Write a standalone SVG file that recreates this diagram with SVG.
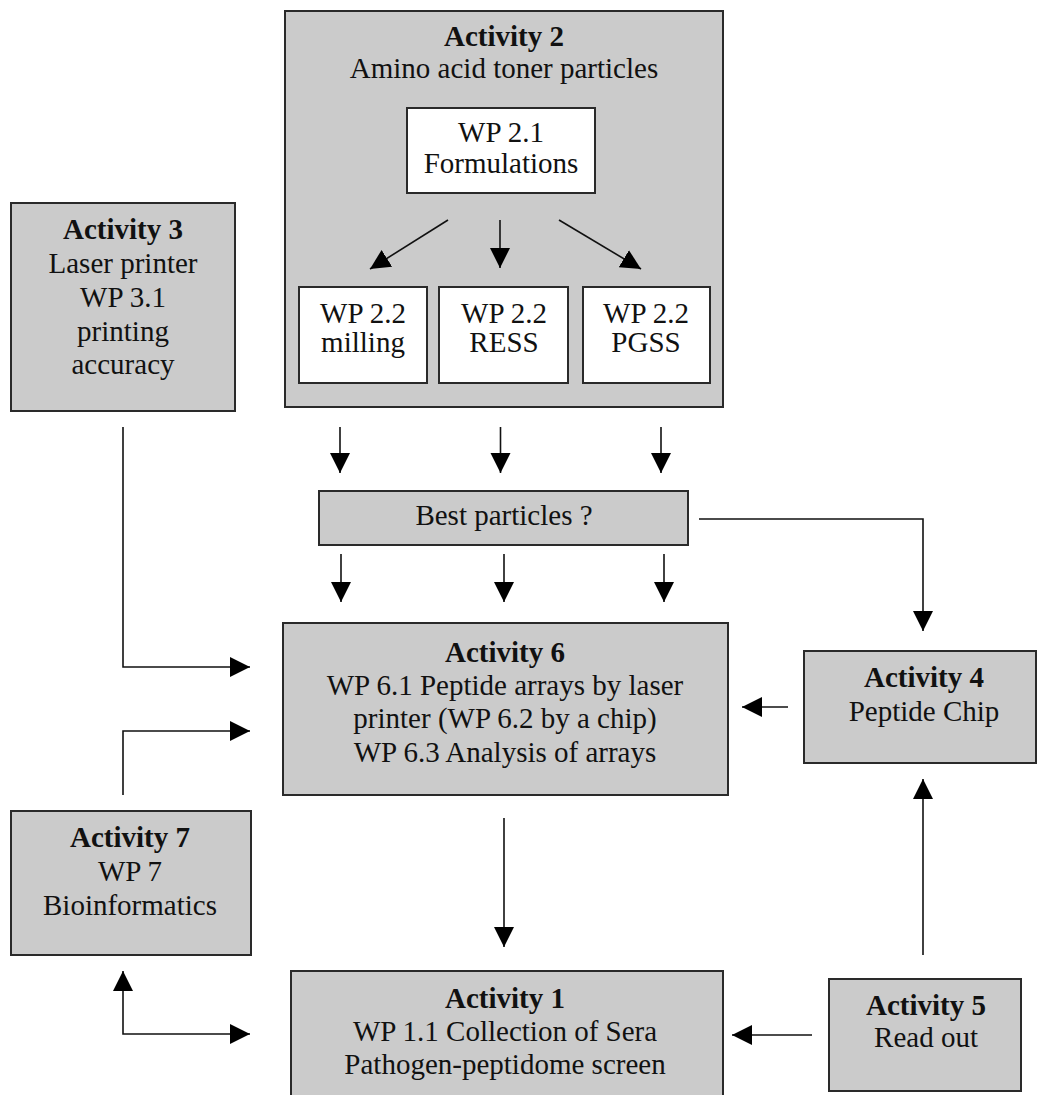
<svg xmlns="http://www.w3.org/2000/svg" width="1037" height="1095" viewBox="0 0 1037 1095">
<defs>
<style>
.box{fill:#cbcbcb;stroke:#2a2a2a;stroke-width:2}
.wbox{fill:#ffffff;stroke:#2a2a2a;stroke-width:2}
text{font-family:"Liberation Serif","Times New Roman",serif;font-size:29px;fill:#111;text-anchor:middle}
.b{font-weight:bold}
.c{fill:none;stroke:#111;stroke-width:1.6;marker-end:url(#ah)}
.bi{marker-start:url(#ah)}
</style>
<marker id="ah" markerUnits="userSpaceOnUse" markerWidth="21" markerHeight="21" refX="20" refY="10" orient="auto-start-reverse" viewBox="0 0 21 21">
<path d="M0,0 L20,10 L0,20 Z" fill="#000"/>
</marker>
</defs>
<rect width="1037" height="1095" fill="#ffffff"/>

<g id="activity2">
<rect class="box" x="285" y="11" width="438" height="396"/>
<text class="b" x="504" y="46">Activity 2</text>
<text x="504" y="78">Amino acid toner particles</text>
</g>
<g id="wp21">
<rect class="wbox" x="407" y="108" width="188" height="85"/>
<text x="501" y="142">WP 2.1</text>
<text x="501" y="173">Formulations</text>
</g>
<g id="wp22-milling">
<rect class="wbox" x="299" y="287" width="128" height="96"/>
<text x="363" y="323">WP 2.2</text>
<text x="363" y="352">milling</text>
</g>
<g id="wp22-ress">
<rect class="wbox" x="439" y="287" width="129" height="96"/>
<text x="504" y="323">WP 2.2</text>
<text x="504" y="352">RESS</text>
</g>
<g id="wp22-pgss">
<rect class="wbox" x="583" y="287" width="127" height="96"/>
<text x="646" y="323">WP 2.2</text>
<text x="646" y="352">PGSS</text>
</g>
<g id="activity3">
<rect class="box" x="11" y="203" width="224" height="208"/>
<text class="b" x="123" y="239">Activity 3</text>
<text x="123" y="273">Laser printer</text>
<text x="123" y="307">WP 3.1</text>
<text x="123" y="341">printing</text>
<text x="123" y="374">accuracy</text>
</g>
<g id="best">
<rect class="box" x="319" y="491" width="369" height="54"/>
<text x="504" y="525">Best particles ?</text>
</g>
<g id="activity6">
<rect class="box" x="283" y="623" width="445" height="172"/>
<text class="b" x="505" y="662">Activity 6</text>
<text x="505" y="695">WP 6.1 Peptide arrays by laser</text>
<text x="505" y="728">printer (WP 6.2 by a chip)</text>
<text x="505" y="762">WP 6.3 Analysis of arrays</text>
</g>
<g id="activity4">
<rect class="box" x="804" y="651" width="232" height="112"/>
<text class="b" x="924" y="687">Activity 4</text>
<text x="924" y="721">Peptide Chip</text>
</g>
<g id="activity7">
<rect class="box" x="11" y="811" width="240" height="144"/>
<text class="b" x="130" y="847">Activity 7</text>
<text x="130" y="881">WP 7</text>
<text x="130" y="915">Bioinformatics</text>
</g>
<g id="activity1">
<rect class="box" x="291" y="971" width="432" height="140"/>
<text class="b" x="505" y="1008">Activity 1</text>
<text x="505" y="1041">WP 1.1 Collection of Sera</text>
<text x="505" y="1074">Pathogen-peptidome screen</text>
</g>
<g id="activity5">
<rect class="box" x="829" y="979" width="192" height="112"/>
<text class="b" x="926" y="1015">Activity 5</text>
<text x="926" y="1047">Read out</text>
</g>

<g id="connectors">
<line class="c" x1="448" y1="220" x2="370" y2="269"/>
<line class="c" x1="500" y1="220" x2="500" y2="268"/>
<line class="c" x1="559" y1="220" x2="641" y2="269"/>
<line class="c" x1="340" y1="427" x2="340" y2="473"/>
<line class="c" x1="500.5" y1="427" x2="500.5" y2="473"/>
<line class="c" x1="661" y1="427" x2="661" y2="473"/>
<line class="c" x1="341" y1="554" x2="341" y2="602"/>
<line class="c" x1="504" y1="554" x2="504" y2="602"/>
<line class="c" x1="664" y1="554" x2="664" y2="602"/>
<polyline class="c" points="699,519 923,519 923,631"/>
<polyline class="c" points="123,427 123,667 250,667"/>
<polyline class="c" points="123,795 123,731 250,731"/>
<line class="c" x1="788" y1="707" x2="742" y2="707"/>
<line class="c" x1="504" y1="818" x2="504" y2="947"/>
<line class="c" x1="923" y1="955" x2="923" y2="779"/>
<line class="c" x1="812" y1="1035" x2="732" y2="1035"/>
<polyline class="c bi" points="123,971 123,1034 250,1034"/>
</g>
</svg>
